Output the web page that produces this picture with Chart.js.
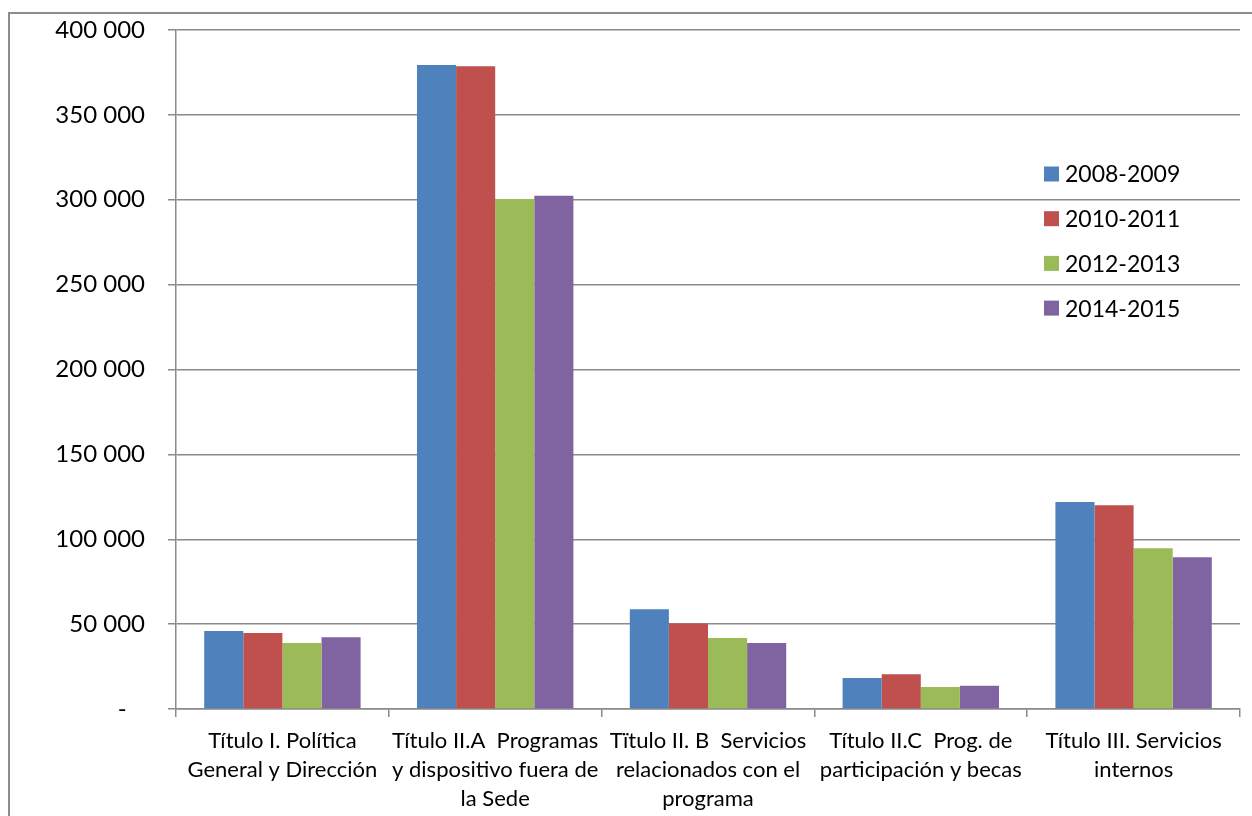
<!DOCTYPE html>
<html>
<head>
<meta charset="utf-8">
<script src="https://cdn.jsdelivr.net/npm/chart.js@4"></script>
<style>
  html, body { margin: 0; padding: 0; background: #fff; }
  canvas { display: block; }
</style>
</head>
<body>
<canvas id="chart" width="1252" height="816"></canvas>
<script>
// data
const categories = [
  ['Título I. Política', 'General y Dirección'],
  ['Título II.A  Programas', 'y dispositivo fuera de', 'la Sede'],
  ['Tïtulo II. B  Servicios', 'relacionados con el', 'programa'],
  ['Título II.C  Prog. de', 'participación y becas'],
  ['Título III. Servicios', 'internos']
];
const seriesLabels = ['2008-2009', '2010-2011', '2012-2013', '2014-2015'];
const values2008 = [45900, 379400, 58700, 18300, 121900];
const values2010 = [44800, 378600, 50300, 20400, 120000];
const values2012 = [38900, 300400, 41800, 13000, 94700];
const values2014 = [42200, 302400, 38900, 13700, 89400];
const yTickValues = [0, 50000, 100000, 150000, 200000, 250000, 300000, 350000, 400000];

const colors = ['#4F81BD', '#C0504D', '#9BBB59', '#8064A2'];
const FONT = 'Lato, "Open Sans", sans-serif';
const GRID = '#8a8a8a';

// accounting style: zero shows as a dash, thousands split by a space
function fmt(v) {
  if (v === 0) return '-   ';
  return String(v).replace(/\B(?=(\d{3})+(?!\d))/g, ' ');
}

// outer frame of the chart object
const framePlugin = {
  id: 'frame',
  beforeDraw(chart) {
    const ctx = chart.ctx;
    ctx.save();
    ctx.strokeStyle = '#8c8c8c';
    ctx.lineWidth = 2;
    ctx.strokeRect(9, 13, 1300, 900);
    ctx.restore();
  }
};

// legend drawn inside the plot, stacked at the right
const legendPlugin = {
  id: 'sideLegend',
  afterDraw(chart) {
    const ctx = chart.ctx;
    ctx.save();
    ctx.font = '23px ' + FONT;
    ctx.textBaseline = 'middle';
    chart.data.datasets.forEach((ds, i) => {
      const y = 174 + i * 44.7;
      ctx.fillStyle = ds.backgroundColor;
      ctx.fillRect(1044, y - 7.5, 15, 15);
      ctx.fillStyle = '#000';
      ctx.fillText(ds.label, 1065, y + 1);
    });
    ctx.restore();
  }
};

const seriesValues = [values2008, values2010, values2012, values2014];

new Chart(document.getElementById('chart'), {
  type: 'bar',
  data: {
    labels: categories,
    datasets: seriesLabels.map((label, i) => ({
      label: label,
      data: seriesValues[i],
      backgroundColor: colors[i],
      borderWidth: 0,
      categoryPercentage: 0.735,
      barPercentage: 1
    }))
  },
  options: {
    responsive: false,
    animation: false,
    devicePixelRatio: 1,
    layout: { padding: { top: 30, right: 12, left: 0, bottom: 0 } },
    plugins: {
      legend: { display: false },
      tooltip: { enabled: false }
    },
    scales: {
      x: {
        offset: true,
        grid: {
          offset: true,
          drawOnChartArea: false,
          drawTicks: true,
          tickLength: 8,
          color: GRID,
          lineWidth: 1.5
        },
        border: { color: GRID, width: 1.5 },
        ticks: {
          color: '#000',
          font: { family: FONT, size: 22, lineHeight: 1.32 },
          padding: 9,
          maxRotation: 0,
          autoSkip: false
        },
        afterFit(scale) { scale.height = 107; }
      },
      y: {
        min: 0,
        max: 400000,
        afterBuildTicks(scale) {
          scale.ticks = yTickValues.map(v => ({ value: v }));
        },
        grid: {
          color: GRID,
          lineWidth: 1.5,
          tickLength: 8
        },
        border: { color: GRID, width: 1.5 },
        ticks: {
          color: '#000',
          font: { family: FONT, size: 24 },
          padding: 23,
          callback: v => fmt(v)
        },
        afterFit(scale) {
          scale.width = 176;
          scale.paddingTop = 0;
          scale.paddingBottom = 0;
        }
      }
    }
  },
  plugins: [framePlugin, legendPlugin]
});
</script>
</body>
</html>
